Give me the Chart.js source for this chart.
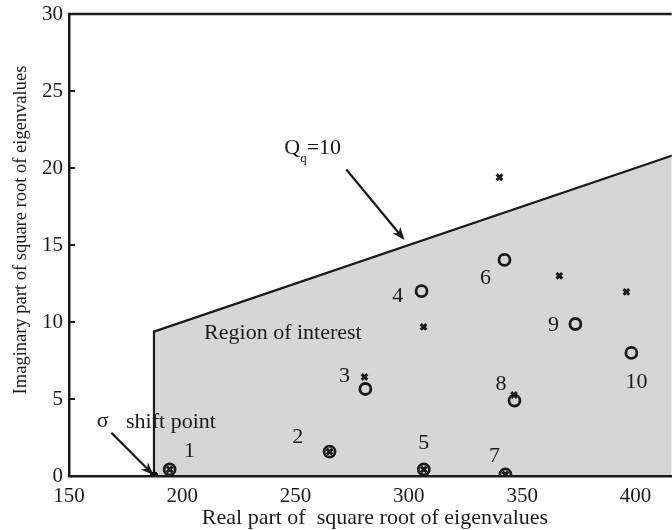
<!DOCTYPE html>
<html><head><meta charset="utf-8">
<script src="https://cdn.jsdelivr.net/npm/chart.js@4.4.1/dist/chart.umd.min.js"></script>
<style>html,body{margin:0;padding:0;background:#fff;overflow:hidden}#wrap{width:672px;height:530px;overflow:hidden;position:relative}canvas{display:block}</style>
</head><body><div id="wrap"><canvas id="c" width="680" height="530"></canvas></div>
<script>
// ---- data ----
const xTicks = [150, 200, 250, 300, 350, 400];
const yTicks = [0, 5, 10, 15, 20, 25, 30];
const circleX = [194.4, 265.0, 280.8, 305.6, 306.6, 342.2, 342.6, 346.6, 373.5, 398.2];
const circleY = [0.43, 1.58, 5.65, 12.0, 0.43, 14.03, 0.1, 4.9, 9.87, 7.99];
const crossX = [194.4, 265.0, 280.4, 306.5, 306.6, 340.0, 342.6, 346.4, 366.4, 396.0];
const crossY = [0.43, 1.58, 6.43, 9.68, 0.43, 19.4, 0.1, 5.26, 13.0, 11.95];
const regionX = [187.5, 187.5, 420];
const regionY = [0, 9.375, 21];
const shiftX = [187.5];
const shiftY = [0];
const modeLabels = ['1', '2', '3', '4', '5', '6', '7', '8', '9', '10'];
const modeLabelX = [203.2, 251.0, 271.6, 295.1, 306.6, 333.8, 337.8, 340.7, 363.8, 400.5];
const modeLabelY = [1.58, 2.55, 6.5, 11.65, 2.12, 12.84, 1.3, 5.95, 9.8, 6.1];
const arrowStartX = [168.7, 272.4];
const arrowStartY = [2.81, 19.9];
const arrowEndX = [187.3, 298.1];
const arrowEndY = [0.06, 15.32];
const xTitle = 'Real part of  square root of eigenvalues';
const yTitle = 'Imaginary part of square root of eigenvalues';
const regionText = 'Region of interest';
const shiftText = 'shift point';

const pts = (xs, ys) => xs.map((v, i) => ({x: v, y: ys[i]}));
const SERIF = '"Liberation Serif", "Times New Roman", serif';
const INK = '#1a1a1a';

const annot = {
  id: 'annot',
  afterDatasetsDraw(chart) {
    const {ctx, scales: {x, y}, chartArea: a} = chart;
    const px = v => x.getPixelForValue(v), py = v => y.getPixelForValue(v);
    ctx.save();
    ctx.fillStyle = INK;
    ctx.textAlign = 'center';
    ctx.textBaseline = 'middle';
    ctx.font = '22px ' + SERIF;
    modeLabels.forEach((t, i) => ctx.fillText(t, px(modeLabelX[i]), py(modeLabelY[i])));
    // region text
    ctx.font = '22px ' + SERIF;
    ctx.fillText(regionText, px(244.4), py(9.27));
    // sigma shift point
    ctx.font = '22px ' + SERIF;
    ctx.fillText('\u03c3', px(164.9), py(3.55));
    ctx.font = '22px ' + SERIF;
    ctx.fillText(shiftText, px(195.0), py(3.46));
    // Q label
    ctx.textAlign = 'left';
    ctx.font = '22px ' + SERIF;
    const qx = px(245.0), qy = py(21.28);
    ctx.fillText('Q', qx, qy);
    const qw = ctx.measureText('Q').width;
    ctx.font = '13px ' + SERIF;
    ctx.fillText('q', qx + qw, qy + 10);
    const sw = ctx.measureText('q').width;
    ctx.font = '22px ' + SERIF;
    ctx.fillText('=10', qx + qw + sw, qy);
    // arrows
    ctx.strokeStyle = INK;
    ctx.lineWidth = 2.2;
    for (let i = 0; i < arrowStartX.length; i++) {
      const x1 = px(arrowStartX[i]), y1 = py(arrowStartY[i]);
      const x2 = px(arrowEndX[i]), y2 = py(arrowEndY[i]);
      const ang = Math.atan2(y2 - y1, x2 - x1);
      const L = 13, W = 5;
      ctx.beginPath();
      ctx.moveTo(x1, y1);
      ctx.lineTo(x2 - Math.cos(ang) * L * 0.6, y2 - Math.sin(ang) * L * 0.6);
      ctx.stroke();
      ctx.beginPath();
      ctx.moveTo(x2, y2);
      ctx.lineTo(x2 - Math.cos(ang) * L - Math.sin(ang) * W, y2 - Math.sin(ang) * L + Math.cos(ang) * W);
      ctx.lineTo(x2 - Math.cos(ang) * L * 0.7, y2 - Math.sin(ang) * L * 0.7);
      ctx.lineTo(x2 - Math.cos(ang) * L + Math.sin(ang) * W, y2 - Math.sin(ang) * L - Math.cos(ang) * W);
      ctx.closePath();
      ctx.fill();
    }
    ctx.restore();
  },
  afterDraw(chart) {
    const {ctx, scales: {x, y}, chartArea: a} = chart;
    ctx.save();
    ctx.strokeStyle = INK;
    ctx.lineWidth = 2.5;
    // top frame line
    ctx.beginPath();
    ctx.moveTo(a.left - 1, a.top);
    ctx.lineTo(a.right, a.top);
    ctx.stroke();
    // inward y ticks
    ctx.lineWidth = 2;
    yTicks.forEach(v => {
      if (v === 0 || v === 30) return;
      const yy = y.getPixelForValue(v);
      ctx.beginPath();
      ctx.moveTo(a.left, yy);
      ctx.lineTo(a.left + 6, yy);
      ctx.stroke();
    });
    // axis titles
    ctx.fillStyle = INK;
    ctx.textAlign = 'center';
    ctx.textBaseline = 'middle';
    ctx.font = '22px ' + SERIF;
    ctx.fillText(xTitle, 375, 518);
    ctx.translate(21.5, 230);
    ctx.rotate(-Math.PI / 2);
    ctx.font = '18.5px ' + SERIF;
    ctx.fillText(yTitle, 0, 0);
    ctx.restore();
  }
};

new Chart(document.getElementById('c'), {
  type: 'scatter',
  data: {
    datasets: [
      {
        label: 'shift', data: pts(shiftX, shiftY), pointStyle: 'circle', pointRadius: 4,
        backgroundColor: '#000', borderColor: '#000', borderWidth: 1, order: 0
      },
      {
        label: 'circles', data: pts(circleX, circleY), pointStyle: 'circle', pointRadius: 5.5,
        borderWidth: 2.8, borderColor: INK, backgroundColor: 'rgba(0,0,0,0)', order: 1
      },
      {
        label: 'crosses', data: pts(crossX, crossY), pointStyle: 'crossRot', pointRadius: 4,
        borderWidth: 3, borderColor: INK, backgroundColor: INK, order: 2
      },
      {
        label: 'region', data: pts(regionX, regionY), showLine: true, pointRadius: 0,
        borderColor: INK, borderWidth: 2.2, backgroundColor: '#d6d6d6', fill: 'origin', order: 5,
        tension: 0
      }
    ]
  },
  options: {
    responsive: false,
    animation: false,
    devicePixelRatio: 1,
    layout: {padding: {top: 14, right: 0, left: 0, bottom: 0}},
    plugins: {legend: {display: false}, tooltip: {enabled: false}},
    scales: {
      x: {
        type: 'linear', position: 'bottom', min: 150, max: 416,
        grid: {display: false, drawTicks: false, z: 1},
        border: {display: true, color: INK, width: 2.5, z: 1},
        ticks: {font: {family: SERIF, size: 21}, color: INK, padding: 8, maxRotation: 0},
        afterBuildTicks: s => { s.ticks = xTicks.map(v => ({value: v})); },
        afterFit: s => { s.height = 54; s.paddingLeft = 0; s.paddingRight = 0; }
      },
      y: {
        type: 'linear', position: 'left', min: 0, max: 30,
        grid: {display: false, drawTicks: false, z: 1},
        border: {display: true, color: INK, width: 2.5, z: 1},
        ticks: {font: {family: SERIF, size: 21}, color: INK, padding: 6},
        afterBuildTicks: s => { s.ticks = yTicks.map(v => ({value: v})); },
        afterFit: s => { s.width = 69; s.paddingTop = 0; s.paddingBottom = 0; }
      }
    }
  },
  plugins: [annot]
});
</script>
</body></html>
